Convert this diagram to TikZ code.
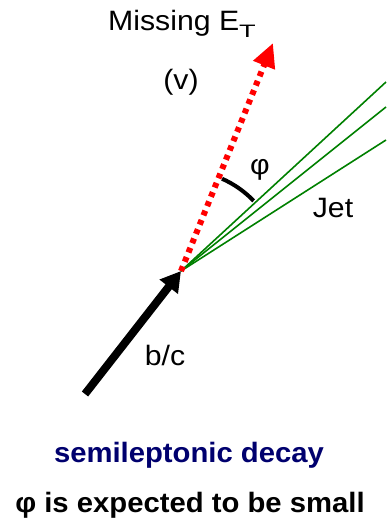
\documentclass[tikz,border=0pt]{standalone}
\usepackage{fontspec}
\setmainfont{Liberation Sans}
\usetikzlibrary{arrows.meta}
\definecolor{navytxt}{RGB}{0,0,110}
\definecolor{jetgreen}{RGB}{0,128,0}
\tikzset{
  lbl/.style={inner sep=0pt, xscale=1.08, font=\fontsize{28}{32}\selectfont},
  bottomlbl/.style={inner sep=0pt, xscale=1.045, font=\fontsize{28}{32}\selectfont\bfseries},
  jetline/.style={draw=jetgreen, line width=1.6pt},
}
\begin{document}
\begin{tikzpicture}[x=1pt,y=-1pt]
\useasboundingbox (0,0) rectangle (386,525);
\coordinate (v) at (181,271);
\coordinate (tail) at (85,394);
\coordinate (mtip) at (273,43);
\coordinate (j1) at (386,82);
\coordinate (j2) at (386,107);
\coordinate (j3) at (386,140);
% jet lines
\draw[jetline] (v) -- (j1);
\draw[jetline] (v) -- (j2);
\draw[jetline] (v) -- (j3);
% missing ET
\draw[red, line width=6pt, dash pattern=on 5pt off 5pt,
  -{Triangle[length=24pt, width=22pt]}] (v) -- (mtip);
% b/c
\draw[black, line width=8pt, -{Triangle[length=20pt, width=22pt]}] (tail) -- (v);
% angle arc
\draw[black, line width=4pt] (v) ++(-66:101) arc[start angle=-66, end angle=-44, radius=101];
\node[lbl] (miss) at (182,24) {Missing E\raisebox{-6.5pt}{\fontsize{18}{20}\selectfont\scalebox{1.4}[1]{T}}};
\node[lbl] (nu) at (181,82) {(v)};
\node[lbl] (phi) at (260,170) {φ};
\node[lbl] (jet) at (333,208) {Jet};
\node[lbl] (bc) at (165,355) {b/c};
\node[bottomlbl, text=navytxt] (semi) at (189,455) {semileptonic decay};
\node[bottomlbl] (small) at (190,505) {φ is expected to be small};
\end{tikzpicture}
\end{document}
